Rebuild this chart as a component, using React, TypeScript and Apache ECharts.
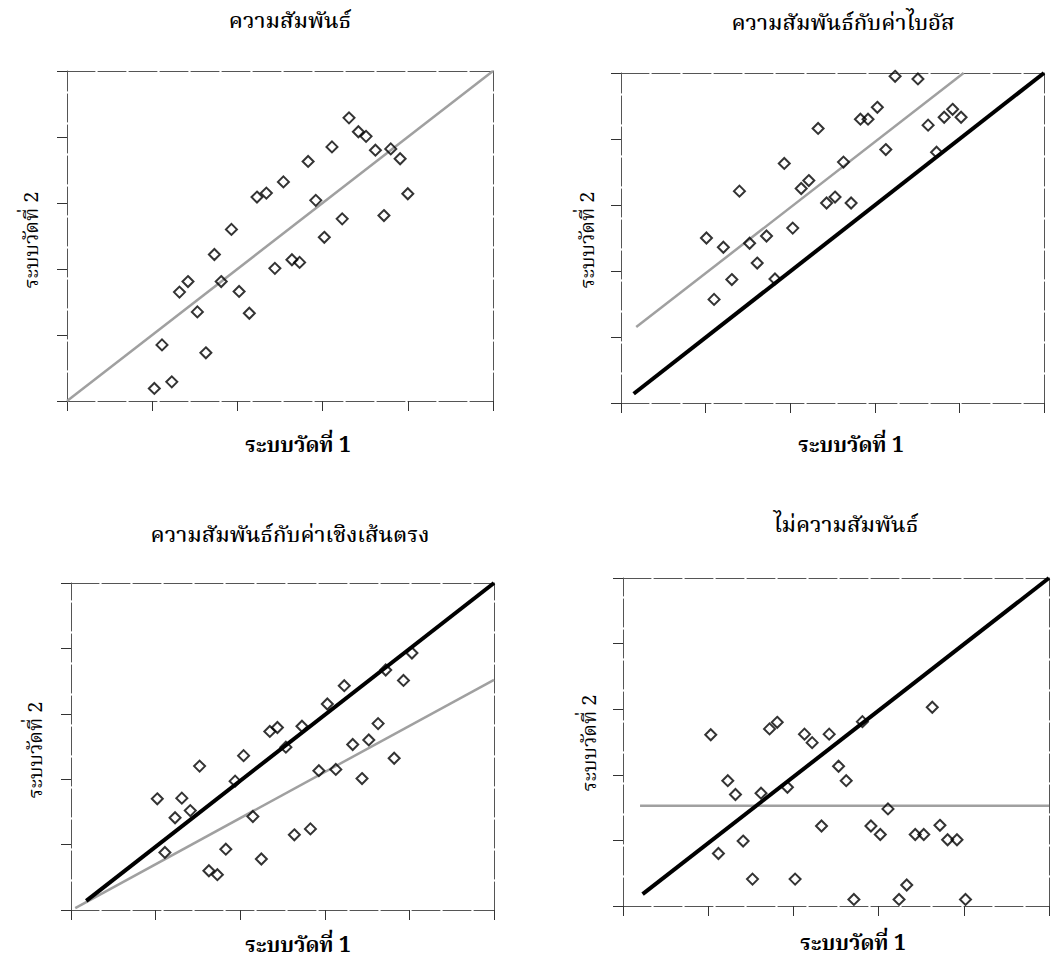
import React, { useEffect, useRef } from "react";
import * as echarts from "echarts";

// Titles and axis names
const panelTitles = [
  "ความสัมพันธ์",
  "ความสัมพันธ์กับค่าไบอัส",
  "ความสัมพันธ์กับค่าเชิงเส้นตรง",
  "ไม่ความสัมพันธ์",
];
const xAxisName = "ระบบวัดที่ 1";
const yAxisName = "ระบบวัดที่ 2";

// Panel 1: correlation
const panel1Points: number[][] = [
  [10.25, 1.9], [11.15, 8.5], [12.3, 2.9], [13.2, 16.5], [14.2, 18.1], [15.3, 13.5],
  [16.3, 7.3], [17.3, 22.2], [18.1, 18.1], [19.3, 26.0], [20.2, 16.6], [21.4, 13.3],
  [22.3, 30.9], [23.4, 31.5], [24.4, 20.1], [25.4, 33.2], [26.4, 21.4], [27.3, 21.0],
  [28.3, 36.3], [29.2, 30.4], [30.2, 24.8], [31.1, 38.5], [32.3, 27.6], [33.1, 42.9],
  [34.2, 40.8], [35.1, 40.1], [36.2, 38.0], [37.2, 28.1], [38.0, 38.2], [39.1, 36.7],
  [40.0, 31.4],
];
const panel1Fit: number[][] = [[0, 0], [50, 50]];

// Panel 2: correlation with bias
const panel2Points: number[][] = [
  [10.1, 25.0], [11.0, 15.7], [12.1, 23.6], [13.1, 18.7], [14.0, 32.1], [15.2, 24.2],
  [16.1, 21.2], [17.2, 25.3], [18.2, 18.8], [19.3, 36.3], [20.3, 26.5], [21.3, 32.5],
  [22.2, 33.7], [23.3, 41.6], [24.3, 30.3], [25.3, 31.2], [26.3, 36.5], [27.2, 30.3],
  [28.3, 43.0], [29.2, 43.0], [30.3, 44.8], [31.3, 38.4], [32.4, 49.5], [34.2, 50.1],
  [35.1, 49.1], [36.3, 42.1], [37.3, 38.0], [38.2, 43.3], [39.2, 44.5], [40.2, 43.3],
];
const panel2Identity: number[][] = [[1.5, 1.4], [50, 50]];
const panel2Fit: number[][] = [[1.8, 11.5], [40.5, 50]];

// Panel 3: correlation with proportional (linear) bias
const panel3Points: number[][] = [
  [10.2, 17.0], [11.1, 8.8], [12.3, 14.1], [13.1, 17.1], [14.1, 15.2], [15.2, 22.0],
  [16.3, 6.0], [17.3, 5.4], [18.3, 9.3], [19.4, 19.7], [20.4, 23.6], [21.5, 14.3],
  [22.5, 7.8], [23.5, 27.3], [24.4, 27.9], [25.4, 24.9], [26.4, 11.5], [27.3, 28.1],
  [28.3, 12.4], [29.3, 21.3], [30.3, 31.5], [31.3, 21.5], [32.3, 34.3], [33.3, 25.3],
  [34.4, 20.1], [35.2, 26.0], [36.3, 28.5], [37.2, 36.7], [38.2, 23.2], [39.3, 35.1],
  [40.3, 39.3],
];
const panel3Identity: number[][] = [[1.8, 1.4], [50, 50]];
const panel3Fit: number[][] = [[0.5, 0.3], [50, 35.2]];

// Panel 4: no correlation
const panel4Points: number[][] = [
  [10.3, 26.1], [11.2, 8.0], [12.3, 19.1], [13.2, 17.0], [14.1, 9.9], [15.2, 4.1],
  [16.2, 17.2], [17.2, 27.0], [18.1, 28.0], [19.3, 18.1], [20.2, 4.1], [21.3, 26.2],
  [22.2, 24.9], [23.3, 12.2], [24.2, 26.2], [25.3, 21.3], [26.2, 19.1], [27.1, 1.0],
  [28.1, 28.1], [29.1, 12.2], [30.2, 10.9], [31.1, 14.8], [32.4, 1.0], [33.3, 3.2],
  [34.3, 10.9], [35.3, 10.9], [36.3, 30.3], [37.2, 12.3], [38.1, 10.1], [39.2, 10.1],
  [40.2, 1.0],
];
const panel4Identity: number[][] = [[2.3, 1.8], [50, 50]];
const panel4Fit: number[][] = [[2, 15.3], [50, 15.3]];

const axisMin = 0;
const axisMax = 50;
const axisInterval = 10;

const FONT = "'Noto Serif Thai', 'Noto Sans Thai', 'Loma', 'Garuda', serif";

export default function App() {
  const ref = useRef<HTMLDivElement>(null);

  useEffect(() => {
    if (!ref.current) return;
    const chart = echarts.init(ref.current, undefined, { renderer: "svg" });

    const grids = [
      { left: 67, top: 71, width: 426, height: 330 },
      { left: 621, top: 73, width: 423, height: 330 },
      { left: 71, top: 583, width: 423, height: 327 },
      { left: 623, top: 578, width: 426, height: 328 },
    ];

    const lineStyleAxis = { color: "#555", width: 1, type: [28, 3] as any };

    const xAxes: any[] = [];
    const yAxes: any[] = [];
    grids.forEach((_, i) => {
      xAxes.push({
        type: "value", gridIndex: i, min: axisMin, max: axisMax, interval: axisInterval,
        position: "bottom",
        axisLine: { show: true, onZero: false, lineStyle: lineStyleAxis },
        axisTick: { show: true, length: 10, inside: false, lineStyle: { color: "#333", width: 1 } },
        axisLabel: { show: false }, splitLine: { show: false },
      });
      xAxes.push({
        type: "value", gridIndex: i, min: axisMin, max: axisMax, interval: axisInterval,
        position: "top",
        axisLine: { show: true, onZero: false, lineStyle: lineStyleAxis },
        axisTick: { show: false }, axisLabel: { show: false }, splitLine: { show: false },
      });
      yAxes.push({
        type: "value", gridIndex: i, min: axisMin, max: axisMax, interval: axisInterval,
        position: "left",
        axisLine: { show: true, onZero: false, lineStyle: lineStyleAxis },
        axisTick: { show: true, length: 10, inside: false, lineStyle: { color: "#333", width: 1 } },
        axisLabel: { show: false }, splitLine: { show: false },
      });
      yAxes.push({
        type: "value", gridIndex: i, min: axisMin, max: axisMax, interval: axisInterval,
        position: "right",
        axisLine: { show: true, onZero: false, lineStyle: lineStyleAxis },
        axisTick: { show: false }, axisLabel: { show: false }, splitLine: { show: false },
      });
    });

    const scatter = (i: number, data: number[][]) => ({
      type: "scatter", xAxisIndex: i * 2, yAxisIndex: i * 2, data,
      symbol: "diamond", symbolSize: 11,
      itemStyle: { color: "rgba(0,0,0,0)", borderColor: "#000", borderWidth: 2 },
      z: 5,
    });
    const line = (i: number, data: number[][], black: boolean) => ({
      type: "line", xAxisIndex: i * 2, yAxisIndex: i * 2, data,
      symbol: "none", clip: false,
      lineStyle: black ? { color: "#000", width: 4 } : { color: "#a0a0a0", width: 2.5 },
      z: black ? 4 : 3,
    });

    const series: any[] = [
      line(0, panel1Fit, false), scatter(0, panel1Points),
      line(1, panel2Fit, false), line(1, panel2Identity, true), scatter(1, panel2Points),
      line(2, panel3Fit, false), line(2, panel3Identity, true), scatter(2, panel3Points),
      line(3, panel4Fit, false), line(3, panel4Identity, true), scatter(3, panel4Points),
    ];

    const titlePos = [[290, 22], [843, 24], [290, 536], [846, 526]];
    const xNamePos = [[298, 446], [851, 446], [298, 946], [853, 944]];
    const yNamePos = [[33, 240], [589, 240], [37, 750], [591, 743]];

    const graphic: any[] = [];
    titlePos.forEach((p, i) => {
      graphic.push({
        type: "text", x: p[0], y: p[1],
        style: { text: panelTitles[i], font: `500 22px ${FONT}`, fill: "#000", textAlign: "center", textVerticalAlign: "middle" },
      });
    });
    xNamePos.forEach((p) => {
      graphic.push({
        type: "text", x: p[0], y: p[1],
        style: { text: xAxisName, font: `bold 21px ${FONT}`, fill: "#000", textAlign: "center", textVerticalAlign: "middle" },
      });
    });
    yNamePos.forEach((p) => {
      graphic.push({
        type: "text", x: p[0], y: p[1], rotation: Math.PI / 2,
        style: { text: yAxisName, font: `20px ${FONT}`, fill: "#000", textAlign: "center", textVerticalAlign: "middle" },
      });
    });

    chart.setOption({
      animation: false,
      backgroundColor: "#fff",
      grid: grids,
      xAxis: xAxes,
      yAxis: yAxes,
      series,
      graphic,
    });

    return () => chart.dispose();
  }, []);

  return <div ref={ref} style={{ position: "absolute", left: 0, top: 0, width: 1062, height: 966 }} />;
}
